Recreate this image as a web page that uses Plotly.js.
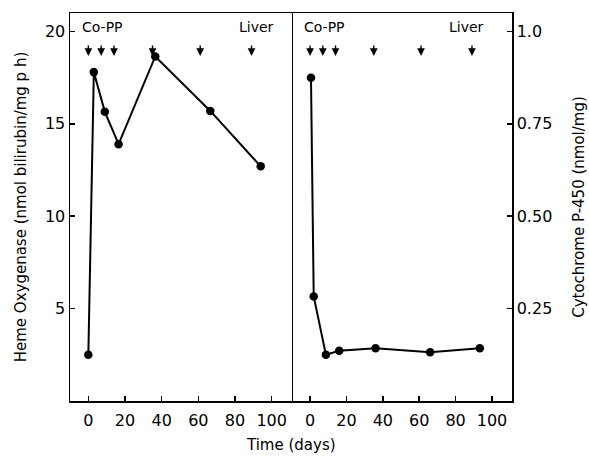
<!DOCTYPE html>
<html><head><meta charset="utf-8">
<script src="https://cdn.plot.ly/plotly-3.0.1.min.js"></script>
<style>html,body{margin:0;padding:0;background:#fff}#c{width:589px;height:457px}</style>
</head><body><div id="c"></div>
<script>
// Heme oxygenase (left panel)
const hoDays = [0, 3, 9, 16.5, 36.5, 66.5, 94];
const hoValues = [2.5, 17.8, 15.65, 13.9, 18.65, 15.7, 12.7];
// Cytochrome P-450 (right panel)
const cytDays = [0.5, 2, 8.7, 16, 36, 66, 93.3];
const cytValues = [0.875, 0.283, 0.125, 0.136, 0.143, 0.132, 0.143];
// Co-PP injection days (arrows)
const arrowDays = [0, 7, 14, 35, 61, 89];
const xTicks = [0, 20, 40, 60, 80, 100];
const hoTicks = [5, 10, 15, 20];
const cytTicks = [0.25, 0.5, 0.75, 1.0];
const cytTickText = ['0.25', '0.50', '0.75', '1.0'];

const font = 'DejaVu Sans, sans-serif';
const traces = [
  {x: hoDays, y: hoValues, xaxis: 'x', yaxis: 'y', mode: 'lines+markers',
   line: {color: '#000', width: 2}, marker: {color: '#000', size: 8.5}},
  {x: cytDays, y: cytValues, xaxis: 'x2', yaxis: 'y2', mode: 'lines+markers',
   line: {color: '#000', width: 2}, marker: {color: '#000', size: 8.5}}
];
const axBase = {showgrid: false, zeroline: false, showline: true, linecolor: '#000', linewidth: 1.5,
  mirror: true, ticks: 'inside', ticklen: 5, tickwidth: 1.5, tickcolor: '#000',
  tickfont: {family: font, size: 16, color: '#000'}};
const annotations = [];
['x', 'x2'].forEach(xr => {
  arrowDays.forEach(d => annotations.push({x: d, xref: xr, y: 0.889, yref: 'paper', text: '',
    showarrow: true, ax: 0, ay: -12, arrowhead: 2, arrowsize: 1.1, arrowwidth: 1.4, arrowcolor: '#000'}));
});
const lblFont = {family: font, size: 14, color: '#000'};
annotations.push({x: 0, xref: 'x', xanchor: 'left', xshift: -8, y: 0.99, yref: 'paper', text: 'Co-PP', showarrow: false, font: lblFont});
annotations.push({x: 0, xref: 'x2', xanchor: 'left', xshift: -8, y: 0.99, yref: 'paper', text: 'Co-PP', showarrow: false, font: lblFont});
annotations.push({x: 100, xref: 'x', xanchor: 'right', xshift: 4, y: 0.99, yref: 'paper', text: 'Liver', showarrow: false, font: lblFont});
annotations.push({x: 100, xref: 'x2', xanchor: 'right', xshift: -6, y: 0.99, yref: 'paper', text: 'Liver', showarrow: false, font: lblFont});
annotations.push({x: 0.5, xref: 'paper', y: -0.085, yref: 'paper', yanchor: 'top', text: 'Time (days)', showarrow: false, font: {family: font, size: 15, color: '#000'}});

const layout = {
  width: 589, height: 457, showlegend: false,
  paper_bgcolor: '#fff', plot_bgcolor: '#fff',
  margin: {l: 70, r: 77, t: 13, b: 56},
  xaxis: Object.assign({}, axBase, {domain: [0, 0.502], range: [-10, 111], tickvals: xTicks, anchor: 'y', ticklabelstandoff: 4}),
  xaxis2: Object.assign({}, axBase, {domain: [0.502, 1], range: [-10, 111], tickvals: xTicks, anchor: 'y2', ticklabelstandoff: 4}),
  yaxis: Object.assign({}, axBase, {range: [0, 21], tickvals: hoTicks, anchor: 'x',
    title: {text: 'Heme Oxygenase (nmol bilirubin/mg p h)', font: {family: font, size: 15, color: '#000'}, standoff: 14}}),
  yaxis2: Object.assign({}, axBase, {range: [0, 1.05], tickvals: cytTicks, ticktext: cytTickText, anchor: 'x2', side: 'right', mirror: false,
    title: {text: 'Cytochrome P-450 (nmol/mg)', font: {family: font, size: 15, color: '#000'}, standoff: 22}}),
  annotations: annotations
};
Plotly.newPlot('c', traces, layout, {staticPlot: true});
</script></body></html>
